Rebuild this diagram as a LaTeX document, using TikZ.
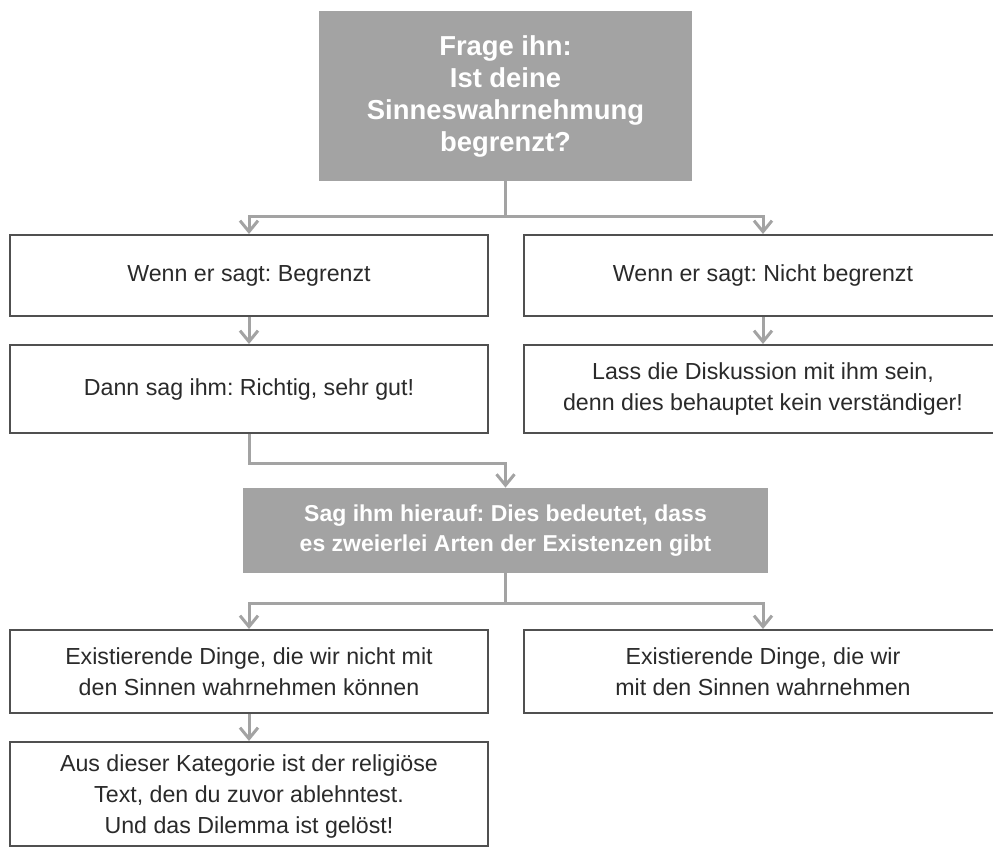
\documentclass[tikz,border=0pt]{standalone}
\usepackage{fontspec}
\setmainfont{Liberation Sans}
\usetikzlibrary{arrows.meta}

\definecolor{boxgray}{HTML}{A3A3A3}
\definecolor{framegray}{HTML}{505050}
\definecolor{textgray}{HTML}{2A2A2A}

\tikzset{
  plainbox/.style={draw=framegray, line width=1pt, fill=white, text=textgray,
    align=center, font=\fontsize{11.6}{15.4}\selectfont, minimum width=239pt},
  graybox/.style={fill=boxgray, text=white, align=center, inner sep=0pt},
  conn/.style={draw=boxgray, line width=1.5pt,
    -{Straight Barb[length=5.5pt,width=9pt,line width=1.5pt]}}
}

\begin{document}
\frenchspacing
\begin{tikzpicture}[x=0.5pt,y=-0.5pt]
  \useasboundingbox (0,0) rectangle (993,848);
  \clip (0,0) rectangle (993,848);

  % question at the top
  \node[graybox, minimum width=186.5pt, minimum height=85pt,
        font=\fontsize{13.7}{16}\selectfont\bfseries] (frage) at (505.5,96)
        {Frage ihn:\\Ist deine\\Sinneswahrnehmung\\begrenzt?};

  % the two answers
  \node[plainbox, minimum height=40.5pt] (begr) at (249,275.5) {Wenn er sagt: Begrenzt};
  \node[plainbox, minimum height=40.5pt] (nbegr) at (763,275.5) {Wenn er sagt: Nicht begrenzt};
  \node[plainbox, minimum height=44pt] (dann) at (249,389) {Dann sag ihm: Richtig, sehr gut!};
  \node[plainbox, minimum height=44pt] (lass) at (763,389)
        {Lass die Diskussion mit ihm sein,\\denn dies behauptet kein verständiger!};

  % second question
  \node[graybox, minimum width=262.5pt, minimum height=42.5pt,
        font=\fontsize{11.5}{15}\selectfont\bfseries] (sag) at (505.5,530.5)
        {Sag ihm hierauf: Dies bedeutet, dass\\es zweierlei Arten der Existenzen gibt};

  % kinds of existence
  \node[plainbox, minimum height=41.5pt] (exnicht) at (249,671.5)
        {Existierende Dinge, die wir nicht mit\\den Sinnen wahrnehmen können};
  \node[plainbox, minimum height=41.5pt] (exmit) at (763,671.5)
        {Existierende Dinge, die wir\\mit den Sinnen wahrnehmen};
  \node[plainbox, minimum height=52pt, text depth=-2pt] (kat) at (249,794)
        {Aus dieser Kategorie ist der religiöse\\Text, den du zuvor ablehntest.\\Und das Dilemma ist gelöst!};

  % connectors
  \draw[conn] (frage.south) -- ++(0,35) -| (begr.north);
  \draw[conn] (frage.south) -- ++(0,35) -| (nbegr.north);
  \draw[conn] (begr.south) -- (dann.north);
  \draw[conn] (nbegr.south) -- (lass.north);
  \draw[conn] (dann.south) -- ++(0,29) -| (sag.north);
  \draw[conn] (sag.south) -- ++(0,30) -| (exnicht.north);
  \draw[conn] (sag.south) -- ++(0,30) -| (exmit.north);
  \draw[conn] (exnicht.south) -- (kat.north);
\end{tikzpicture}
\end{document}
